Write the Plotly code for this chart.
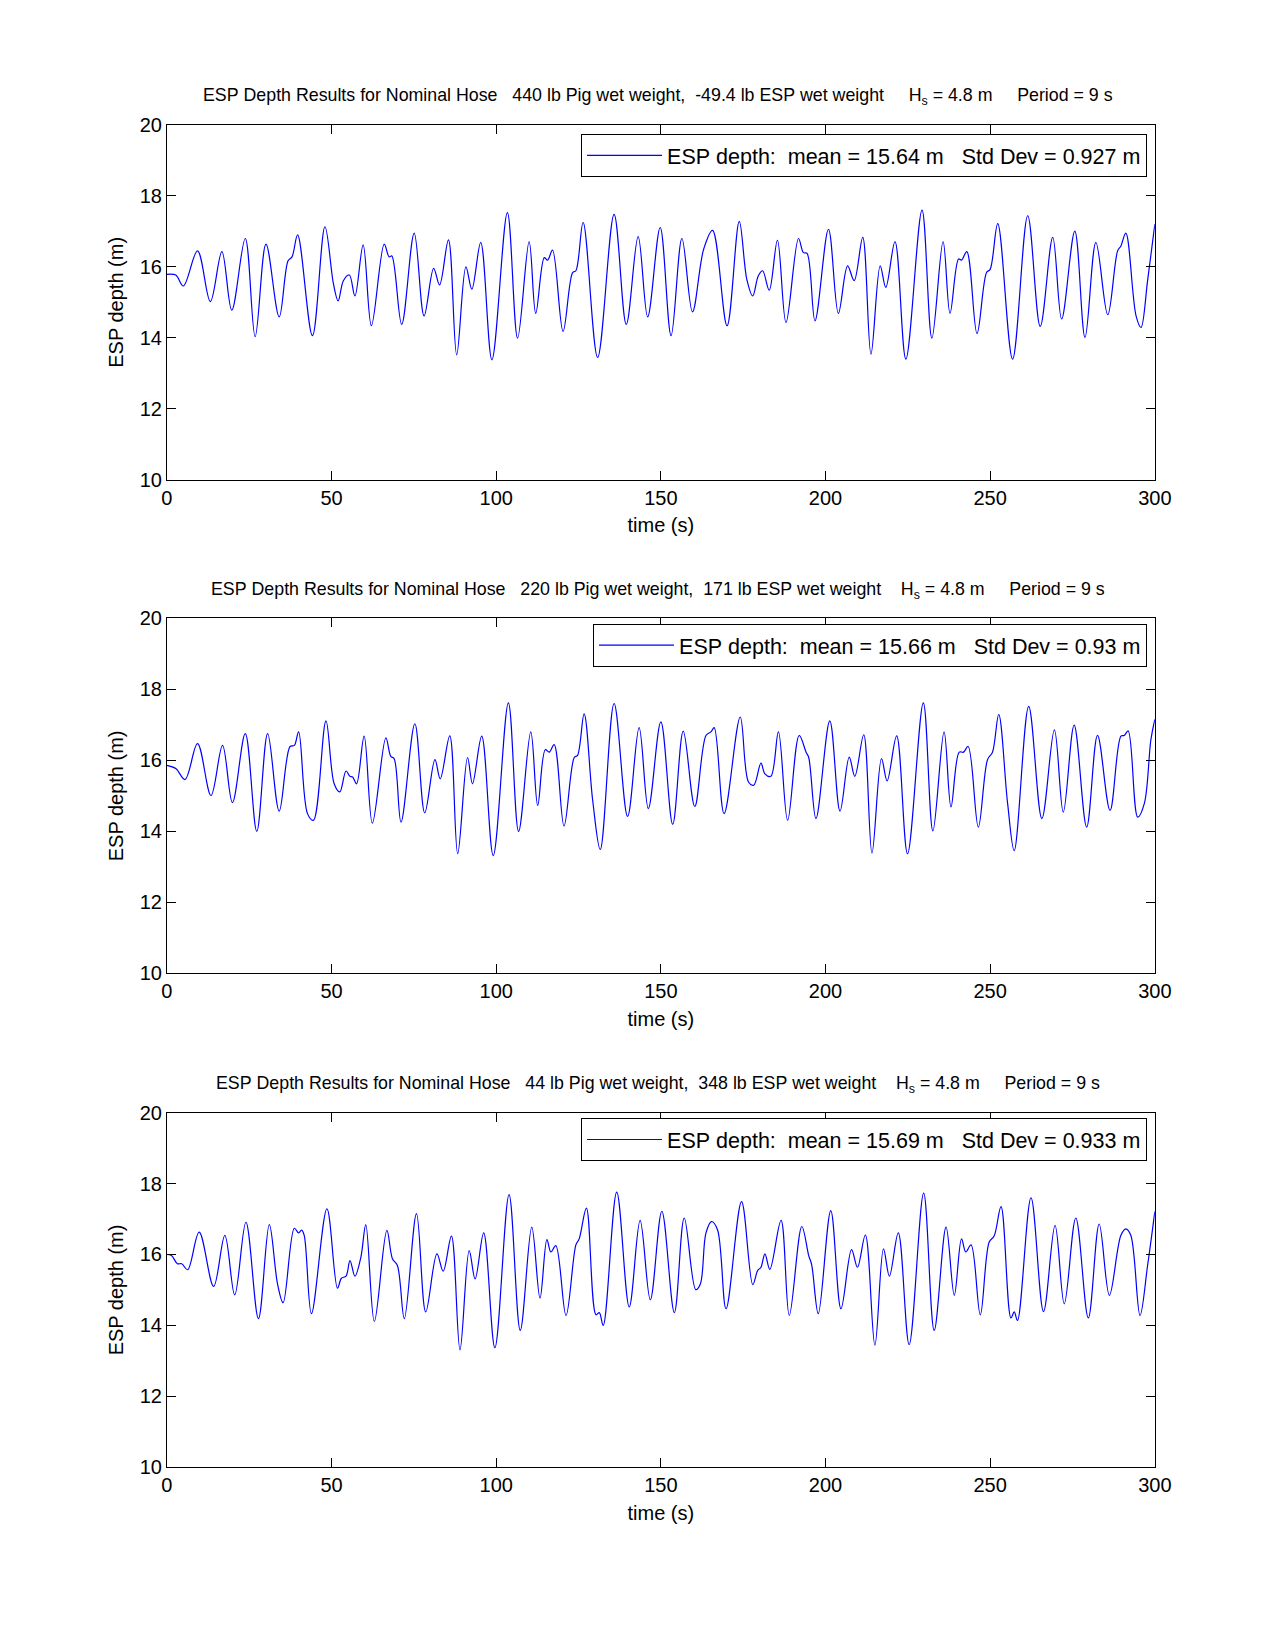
import plotly.graph_objects as go

# ---------------- data ----------------
t1 = [0, 2.7, 5.0, 9.3, 13.2, 16.7, 19.7, 23.8, 26.8, 30.1, 34.1, 36.8, 38.0, 39.7, 44.2, 48.0, 50.6, 52.0, 53.6, 55.4,
      57.1, 59.6, 62.1, 66.0, 67.5, 68.3, 71.3, 75.1, 78.1, 81.0, 82.8, 85.5, 88.0, 90.8, 92.6, 95.3, 98.7, 103.4, 106.5,
      110.0, 112.0, 114.6, 115.6, 117.1, 120.3, 123.2, 124.2, 126.4, 130.8, 135.8, 139.5, 143.1, 146.0, 149.8, 153.1,
      156.4, 159.6, 163.0, 165.7, 170.1, 173.8, 176.1, 177.9, 179.6, 180.9, 182.9, 185.4, 188.0, 191.8, 193.3, 194.4,
      196.8, 200.9, 203.9, 206.7, 208.7, 211.3, 213.8, 216.6, 218.3, 221.1, 224.4, 229.3, 232.3, 235.7, 237.8, 240.4,
      241.3, 242.9, 246.0, 248.9, 250.0, 252.3, 256.8, 261.4, 265.2, 269.0, 271.7, 275.7, 278.8, 282.1, 285.7, 288.7,
      289.7, 291.2, 294.3, 295.8, 297.8, 300]
d1 = [15.79, 15.77, 15.46, 16.45, 15.02, 16.43, 14.78, 16.80, 14.03, 16.64, 14.59, 16.17, 16.28, 16.90, 14.06, 17.13,
      15.51, 15.04, 15.61, 15.77, 15.18, 16.62, 14.34, 16.64, 16.28, 16.31, 14.38, 16.95, 14.62, 15.96, 15.49, 16.76,
      13.52, 16.00, 15.37, 16.69, 13.38, 17.53, 13.99, 16.71, 14.69, 16.26, 16.19, 16.47, 14.18, 15.84, 15.89, 17.25,
      13.45, 17.48, 14.38, 16.85, 14.59, 17.11, 14.06, 16.80, 14.73, 16.50, 17.03, 14.34, 17.28, 15.65, 15.18, 15.75,
      15.89, 15.34, 16.75, 14.43, 16.80, 16.40, 16.38, 14.48, 17.06, 14.69, 16.03, 15.61, 16.83, 13.54, 16.03, 15.42,
      16.71, 13.40, 17.60, 13.99, 16.71, 14.69, 16.22, 16.19, 16.43, 14.12, 15.84, 15.93, 17.22, 13.40, 17.44, 14.32,
      16.83, 14.53, 17.01, 14.01, 16.69, 14.65, 16.45, 16.59, 16.95, 14.62, 14.29, 15.61, 17.20]

t2 = [0, 2.7, 5.5, 9.3, 13.4, 16.9, 19.9, 23.8, 27.3, 30.6, 34.1, 37.4, 38.7, 40.0, 42.7, 44.5, 48.3, 50.8, 52.5, 54.4,
      55.6, 56.4, 57.6, 59.9, 62.4, 66.5, 68.0, 69.0, 71.1, 75.3, 78.3, 81.4, 83.0, 85.9, 88.3, 91.3, 92.8, 95.6, 99.1,
      103.7, 106.8, 110.5, 112.6, 114.9, 116.1, 117.6, 120.6, 123.7, 124.7, 126.7, 129.3, 131.6, 135.8, 139.9, 143.4,
      146.2, 150.0, 153.6, 156.8, 160.3, 163.7, 165.2, 166.2, 169.2, 174.1, 176.6, 178.2, 180.4, 181.6, 183.4, 185.7,
      188.5, 192.0, 194.1, 194.9, 197.1, 201.3, 204.4, 207.2, 208.9, 211.6, 214.1, 217.0, 218.7, 221.6, 224.9, 229.7,
      232.6, 236.0, 238.1, 240.6, 241.9, 243.3, 246.4, 249.2, 250.7, 252.6, 255.3, 257.3, 261.7, 265.7, 269.5, 272.2,
      275.5, 279.3, 282.6, 286.4, 289.7, 290.7, 291.9, 294.8, 296.8, 298.8, 300]
d2 = [15.86, 15.77, 15.46, 16.47, 15.01, 16.42, 14.81, 16.75, 14.00, 16.75, 14.57, 16.39, 16.42, 16.80, 14.50, 14.31,
      17.11, 15.34, 15.11, 15.70, 15.55, 15.53, 15.34, 16.68, 14.23, 16.63, 16.11, 16.05, 14.26, 17.03, 14.52, 16.02,
      15.48, 16.69, 13.37, 16.08, 15.34, 16.68, 13.32, 17.62, 14.00, 16.80, 14.73, 16.30, 16.23, 16.44, 14.15, 16.08,
      16.14, 17.31, 14.87, 13.49, 17.60, 14.42, 16.92, 14.64, 17.08, 14.20, 16.82, 14.70, 16.70, 16.80, 16.92, 14.50,
      17.22, 15.39, 15.30, 15.92, 15.62, 15.55, 16.80, 14.31, 16.70, 16.23, 16.08, 14.36, 17.11, 14.57, 16.09, 15.55,
      16.72, 13.39, 16.05, 15.42, 16.69, 13.37, 17.62, 14.01, 16.80, 14.69, 16.23, 16.23, 16.39, 14.12, 16.02, 16.23,
      17.29, 14.78, 13.46, 17.52, 14.36, 16.86, 14.54, 16.99, 14.12, 16.70, 14.59, 16.68, 16.70, 16.83, 14.40, 14.78,
      16.58, 17.15]

t3 = [0, 1.4, 3.2, 4.5, 6.3, 9.8, 14.2, 17.6, 20.6, 24.0, 27.8, 31.1, 33.6, 35.3, 38.7, 40.0, 40.9, 41.7, 43.9, 48.6,
      51.8, 53.0, 54.4, 55.6, 57.1, 58.9, 60.4, 63.0, 66.8, 68.5, 70.0, 72.1, 75.8, 78.6, 82.0, 83.9, 86.4, 89.0, 91.8,
      93.6, 96.2, 99.6, 103.9, 107.3, 110.8, 113.3, 115.4, 116.6, 118.1, 121.2, 124.2, 125.2, 127.4, 130.3, 131.3,
      132.5, 136.6, 140.4, 143.7, 146.8, 150.3, 154.1, 157.1, 160.6, 162.0, 163.7, 165.4, 167.2, 169.8, 174.5, 177.9,
      179.4, 180.4, 181.6, 183.1, 186.5, 189.0, 192.8, 194.9, 195.8, 197.8, 201.6, 204.7, 207.9, 209.7, 212.1, 215.0,
      217.6, 219.4, 222.1, 225.4, 229.8, 233.0, 236.6, 239.1, 241.3, 242.6, 244.2, 247.0, 249.7, 251.2, 253.3, 256.3,
      257.3, 258.3, 262.4, 266.2, 269.7, 272.5, 276.0, 279.8, 283.1, 286.2, 289.7, 291.2, 292.7, 295.5, 297.8, 300]
d3 = [16.00, 15.97, 15.74, 15.74, 15.57, 16.63, 15.10, 16.54, 14.86, 16.91, 14.19, 16.84, 15.17, 14.64, 16.74, 16.61,
      16.69, 16.54, 14.33, 17.29, 15.05, 15.33, 15.39, 15.83, 15.39, 15.92, 16.84, 14.11, 16.68, 15.88, 15.69, 14.19,
      17.15, 14.38, 16.02, 15.53, 16.52, 13.31, 16.11, 15.31, 16.61, 13.37, 17.69, 13.86, 16.77, 14.77, 16.42, 16.07,
      16.25, 14.28, 16.27, 16.44, 17.31, 14.30, 14.36, 14.00, 17.76, 14.52, 16.96, 14.72, 17.22, 14.36, 17.03, 15.01,
      15.17, 16.61, 16.93, 16.70, 14.47, 17.49, 15.15, 15.55, 15.64, 16.02, 15.58, 16.96, 14.28, 16.79, 15.97, 15.71,
      14.33, 17.24, 14.47, 16.14, 15.64, 16.55, 13.44, 16.16, 15.39, 16.61, 13.46, 17.73, 13.86, 16.77, 14.85, 16.44,
      16.07, 16.27, 14.30, 16.35, 16.52, 17.35, 14.21, 14.38, 14.14, 17.60, 14.39, 16.82, 14.61, 17.03, 14.21, 16.86,
      14.85, 16.54, 16.72, 16.54, 14.28, 15.69, 17.21]

legend_names = [
    "ESP depth:  mean = 15.64 m   Std Dev = 0.927 m",
    "ESP depth:  mean = 15.66 m   Std Dev = 0.93 m",
    "ESP depth:  mean = 15.69 m   Std Dev = 0.933 m",
]
titles = [
    "ESP Depth Results for Nominal Hose   440 lb Pig wet weight,  -49.4 lb ESP wet weight     H<sub>s</sub> = 4.8 m     Period = 9 s",
    "ESP Depth Results for Nominal Hose   220 lb Pig wet weight,  171 lb ESP wet weight    H<sub>s</sub> = 4.8 m     Period = 9 s",
    "ESP Depth Results for Nominal Hose   44 lb Pig wet weight,  348 lb ESP wet weight    H<sub>s</sub> = 4.8 m     Period = 9 s",
]
x_ticks = [0, 50, 100, 150, 200, 250, 300]
y_ticks = [10, 12, 14, 16, 18, 20]
x_label = "time (s)"
y_label = "ESP depth (m)"

# ---------------- figure ----------------
W, H = 1275, 1650
FONT = "Liberation Sans, Arial, sans-serif"
NB = "\u00a0"

def nb(s):
    return s.replace(" ", NB)

series = [(t1, d1), (t2, d2), (t3, d3)]
ydomains = [[0.7121, 0.9300], [0.4088, 0.6270], [0.1055, 0.3233]]
xdomain = [0.1285, 0.9176]
legend_tops = [124.5, 621, 1122]
title_y = [86.5, 587, 1088]

fig = go.Figure()
layout = dict(
    width=W, height=H,
    margin=dict(l=0, r=0, t=0, b=0),
    paper_bgcolor="white", plot_bgcolor="white",
    font=dict(family=FONT, size=20, color="black"),
    showlegend=True,
    annotations=[],
)

for i, (tt, dd) in enumerate(series):
    k = "" if i == 0 else str(i + 1)
    lg = "legend" + k
    fig.add_trace(go.Scatter(
        x=tt, y=dd, mode="lines", name=nb(legend_names[i]),
        line=dict(color="rgb(0,0,255)", width=1.2, shape="spline", smoothing=1.0),
        xaxis="x" + k, yaxis="y" + k, legend=lg,
    ))
    axis_common = dict(
        showline=True, linecolor="black", linewidth=1, mirror="ticks",
        ticks="inside", ticklen=9, tickcolor="black", tickwidth=1,
        showgrid=False, zeroline=False,
        tickfont=dict(family=FONT, size=20, color="black"),
    )
    layout["xaxis" + k] = dict(
        axis_common, domain=xdomain, range=[0, 300], tickvals=x_ticks,
        anchor="y" + k,
        title=dict(text=x_label, font=dict(family=FONT, size=20), standoff=10),
    )
    layout["yaxis" + k] = dict(
        axis_common, domain=ydomains[i], range=[10, 20], tickvals=y_ticks,
        anchor="x" + k,
        title=dict(text=y_label, font=dict(family=FONT, size=20), standoff=10),
    )
    layout[lg] = dict(
        x=1162 / W, xanchor="right", y=1 - legend_tops[i] / H, yanchor="top",
        bgcolor="white", bordercolor="black", borderwidth=1,
        font=dict(family=FONT, size=21.5, color="black"),
        itemwidth=75,
    )
    layout["annotations"].append(dict(
        text=nb(titles[i]), xref="paper", yref="paper",
        x=663.5 / W, y=1 - title_y[i] / H, xanchor="center", yanchor="middle",
        showarrow=False, font=dict(family=FONT, size=17.8, color="black"),
    ))

fig.update_layout(**layout)
fig.write_html(
    "out.html",
    config=dict(displayModeBar=False),
    post_script="document.body.style.margin='0';document.body.style.overflow='hidden';",
)
